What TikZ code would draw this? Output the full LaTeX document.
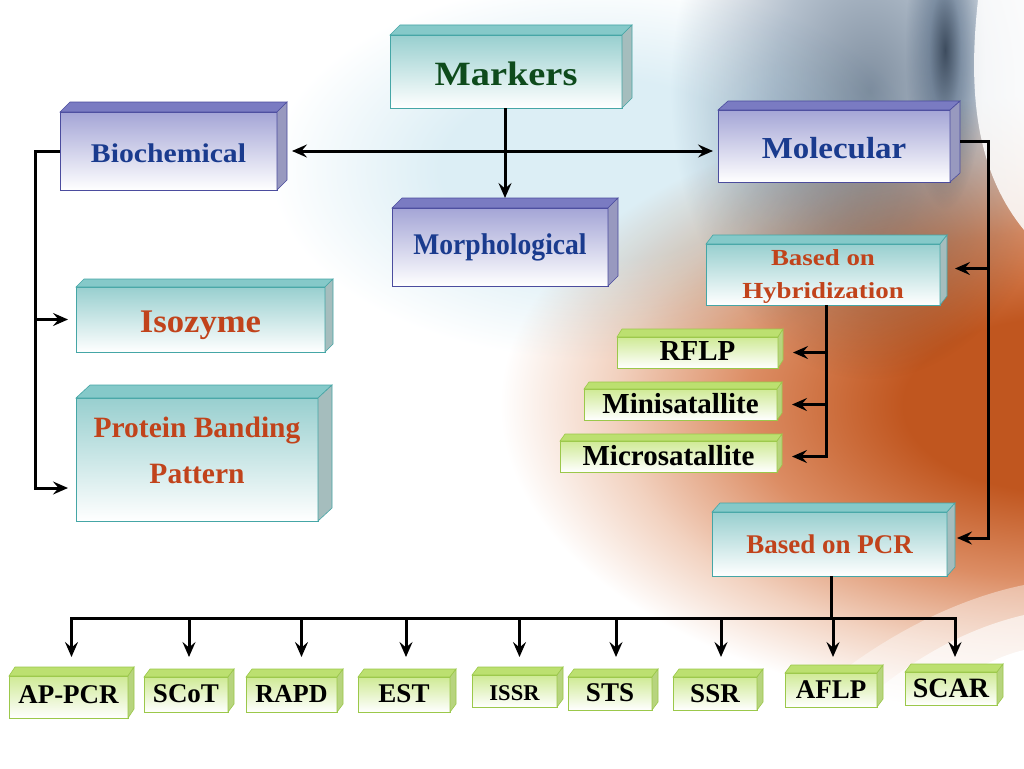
\documentclass[tikz,border=0pt]{standalone}
\usepackage{fontspec}
\setmainfont{Liberation Serif}
\usetikzlibrary{arrows.meta,calc}
\definecolor{bluebd}{HTML}{4B4C9E}
\definecolor{bluetop}{HTML}{A4A5D6}
\definecolor{bluetf}{HTML}{7A7BC2}
\definecolor{bluesd}{HTML}{9899BF}
\definecolor{bluetxt}{HTML}{1A3B8E}
\definecolor{tealbd}{HTML}{45A6A6}
\definecolor{tealtop}{HTML}{98CFCF}
\definecolor{tealtf}{HTML}{85C9C9}
\definecolor{tealsd}{HTML}{A5BDBD}
\definecolor{greenbd}{HTML}{9BC84A}
\definecolor{greentop}{HTML}{CFEA95}
\definecolor{greentf}{HTML}{BCE070}
\definecolor{greensd}{HTML}{B7D47E}
\definecolor{orangetxt}{HTML}{C1431B}
\definecolor{darkgreentxt}{HTML}{0E4B1C}
\definecolor{og0}{HTML}{C0561F}
\definecolor{og1}{HTML}{DC8D64}
\definecolor{og2}{HTML}{F2D2C0}
\definecolor{gr0}{HTML}{7F8E9F}
\definecolor{gr1}{HTML}{B4C0CD}
\definecolor{gr2}{HTML}{5C6A7A}
\definecolor{bt0}{HTML}{DCEEF5}
\pgfdeclareradialshading{orangeglow}{\pgfpoint{0bp}{0bp}}{color(0bp)=(og0); color(7bp)=(og0); color(14bp)=(og1); color(20bp)=(og2); color(25bp)=(white); color(50bp)=(white)}
\pgfdeclareradialshading{grayglow}{\pgfpoint{0bp}{0bp}}{color(0bp)=(gr0); color(12bp)=(gr1); color(25bp)=(white); color(50bp)=(white)}
\pgfdeclareradialshading{darkstripe}{\pgfpoint{0bp}{0bp}}{color(0bp)=(gr2); color(10bp)=(gr1); color(25bp)=(white); color(50bp)=(white)}
\pgfdeclareradialshading{bluetint}{\pgfpoint{0bp}{0bp}}{color(0bp)=(bt0); color(12bp)=(bt0); color(25bp)=(white); color(50bp)=(white)}
\newcommand\sx[2]{\scalebox{#1}[1]{#2}}
\newcommand\fs[2]{\fontsize{#1}{#2}\selectfont\bfseries}
% #1 name, #2 x1, #3 y1, #4 x2, #5 y2, #6 depth vector, #7 family, #8 options, #9 text
\newcommand\cube[9]{%
  \node[#7front,#8,minimum width={(#4)-(#2)},minimum height={(#5)-(#3)}] (#1) at ({((#2)+(#4))/2},{((#3)+(#5))/2}) {#9};
  \filldraw[#7topf] (#1.north west) -- ++#6 -- ([shift={#6}]#1.north east) -- (#1.north east) -- cycle;
  \filldraw[#7sidef] (#1.north east) -- ++#6 -- ([shift={#6}]#1.south east) -- (#1.south east) -- cycle;
  \coordinate (#1-top) at ($(#1.north)+#6$);
}
\begin{document}
\begin{tikzpicture}[x=1pt,y=-1pt,
  boxbase/.style={inner sep=0pt,outer sep=0pt,line width=0.8pt,align=center},
  bluefront/.style={boxbase,draw=bluebd,top color=bluetop,bottom color=white,text=bluetxt},
  bluetopf/.style={fill=bluetf,draw=bluebd,line width=0.6pt},
  bluesidef/.style={fill=bluesd,draw=bluebd,line width=0.6pt},
  tealfront/.style={boxbase,draw=tealbd,top color=tealtop,bottom color=white,text=orangetxt},
  tealtopf/.style={fill=tealtf,draw=tealbd,line width=0.6pt},
  tealsidef/.style={fill=tealsd,draw=tealbd,line width=0.6pt},
  greenfront/.style={boxbase,draw=greenbd,top color=greentop,bottom color=white,text=black},
  greentopf/.style={fill=greentf,draw=greenbd,line width=0.6pt},
  greensidef/.style={fill=greensd,draw=greenbd,line width=0.6pt},
  conn/.style={line width=3pt,draw=black},
  arr/.style={conn,-{Stealth[length=15pt,width=13pt,inset=5.5pt]}},
  darr/.style={conn,{Stealth[length=15pt,width=13pt,inset=5.5pt]}-{Stealth[length=15pt,width=13pt,inset=5.5pt]}},
  small/.style={font={\fs{27}{32}},text depth=0}
]
\useasboundingbox (0,0) rectangle (1024,768);
% ---------- background ----------
\begin{scope}
\clip (0,0) rectangle (1024,768);
\fill[white] (0,0) rectangle (1024,768);
\begin{scope}[blend mode=multiply]
\shade[shading=bluetint] (600,170) ellipse (330 and 190);
\shade[shading=grayglow] (870,90) ellipse (200 and 290);
\shade[shading=darkstripe] (945,50) ellipse (40 and 160);
\shade[shading=orangeglow] (1060,405) ellipse (560 and 310);
\end{scope}
\fill[white,opacity=0.4] (740,768) .. controls (840,650) and (950,600) .. (1024,585) -- (1024,768) -- cycle;
\fill[white,opacity=0.6] (800,768) .. controls (880,670) and (960,630) .. (1024,615) -- (1024,768) -- cycle;
\fill[white] (860,768) .. controls (920,700) and (980,660) .. (1024,650) -- (1024,768) -- cycle;
\fill[white,opacity=0.85] (978,0) .. controls (968,90) and (975,170) .. (1024,230) -- (1024,0) -- cycle;
\end{scope}
% ---------- boxes ----------
\cube{mk}{390}{35}{622}{108}{(10,-10)}{teal}{font={\fs{34}{40}},text height=28,text depth=0,text=darkgreentxt}{\sx{1.13}{Markers}}
\cube{bio}{60}{112}{277}{190}{(10,-10)}{blue}{font={\fs{27}{32}},text height=23,text depth=0}{\sx{1.10}{Biochemical}}
\cube{mol}{718}{110}{950}{182}{(10,-9)}{blue}{font={\fs{30.5}{36}},text height=24,text depth=0}{\sx{1.08}{Molecular}}
\cube{morph}{392}{208}{608}{286}{(10,-10)}{blue}{font={\fs{30}{36}},text height=14,text depth=0}{\sx{0.92}{Morphological}}
\cube{hyb}{706}{244}{940}{305}{(7,-9)}{teal}{font={\fs{23}{33}},text height=48,text depth=0}{\sx{1.17}{Based on}\\\sx{1.17}{Hybridization}}
\cube{rflp}{617}{337}{778}{368}{(5,-8)}{green}{font={\fs{29}{34}},text height=15,text depth=0}{RFLP}
\cube{mini}{584}{389}{777}{420}{(5,-7)}{green}{font={\fs{29}{34}},text height=17,text depth=0}{Minisatallite}
\cube{micro}{560}{441}{777}{472}{(5,-7)}{green}{font={\fs{29}{34}},text height=17,text depth=0}{Microsatallite}
\cube{iso}{76}{287}{325}{352}{(8,-8)}{teal}{font={\fs{33}{40}},text height=25,text depth=0}{\sx{1.05}{Isozyme}}
\cube{prot}{76}{398}{318}{521}{(14,-13)}{teal}{font={\fs{29.5}{46}},text height=66,text depth=18}{Protein Banding\\Pattern}
\cube{pcr}{712}{512}{947}{576}{(8,-9)}{teal}{font={\fs{27}{32}},text height=18,text depth=0}{Based on PCR}
\cube{ap}{9}{676}{128}{718}{(6,-9)}{green}{small,text height=12}{AP-PCR}
\cube{scot}{144}{677}{228}{712}{(6,-8)}{green}{small,text height=15}{SCoT}
\cube{rapd}{246}{677}{337}{712}{(6,-8)}{green}{font={\fs{26}{32}},text height=15,text depth=0}{RAPD}
\cube{est}{358}{677}{450}{712}{(6,-8)}{green}{small,text height=15}{EST}
\cube{issr}{472}{675}{557}{707}{(6,-8)}{green}{font={\fs{22.5}{28}},text height=18,text depth=0}{ISSR}
\cube{sts}{568}{677}{652}{710}{(6,-8)}{green}{small,text height=15}{STS}
\cube{ssr}{673}{677}{757}{710}{(6,-8)}{green}{small,text height=17}{SSR}
\cube{aflp}{785}{673}{877}{707}{(6,-8)}{green}{small,text height=16}{AFLP}
\cube{scar}{905}{672}{997}{705}{(6,-8)}{green}{font={\fs{28}{33}},text height=17,text depth=0}{SCAR}
% ---------- connectors ----------
\draw[darr] ([xshift=15]bio.east) -- ([xshift=-5]mol.west |- bio.east);
\draw[arr] ([xshift=-1]mk.south) -- ([xshift=-1]mk.south |- morph-top);
% left bracket
\coordinate (lb) at ([xshift=-25]bio.west);
\draw[arr] (bio.west) -- (lb) |- ($(prot.south west)+(-8,-33)$);
\draw[arr] (lb |- iso.west) -- ([xshift=-8]iso.west);
% right bracket
\coordinate (molR) at ($(mol.east)+(10,-5)$);
\coordinate (rb) at ($(mol.east)+(38,-5)$);
\draw[arr] (molR) -- (rb) |- ($(pcr.east)+(10,-6)$);
\draw[arr] (rb |- hyb.east) ++(0,-6) -- ($(hyb.east)+(15,-6)$);
% hybridization branch
\coordinate (hb) at ($(hyb.south)+(3,0)$);
\draw[arr] (hb) |- ([xshift=15]micro.east);
\draw[arr] (hb |- rflp.east) -- ([xshift=15]rflp.east);
\draw[arr] (hb |- mini.east) -- ([xshift=15]mini.east);
% PCR branch
\coordinate (bus) at ($(pcr.south)+(2,42)$);
\coordinate (tipline) at ($(pcr.south)+(0,81)$);
\draw[conn] ($(pcr.south)+(2,0)$) -- (bus);
\draw[arr] (bus) -| ([xshift=3]ap.north |- tipline);
\draw[arr] (bus) -| ([xshift=4]scar.north |- tipline);
\foreach \n/\s in {scot/3,rapd/10,est/2,issr/5,sts/6,ssr/6,aflp/2}
  \draw[arr] ([xshift=\s]\n.north |- bus) -- ([xshift=\s]\n.north |- tipline);
\end{tikzpicture}
\end{document}
